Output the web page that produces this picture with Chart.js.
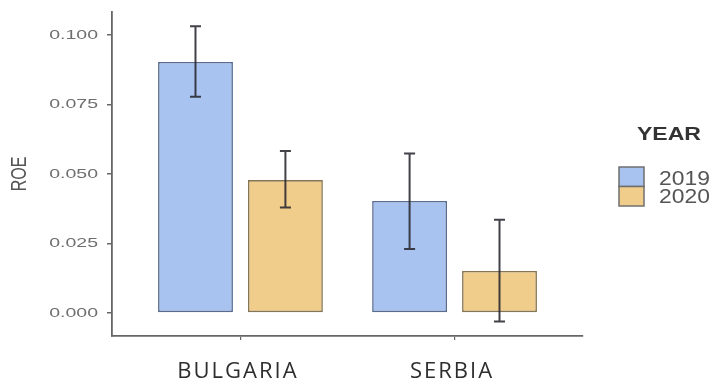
<!DOCTYPE html>
<html>
<head>
<meta charset="utf-8">
<script src="https://cdn.jsdelivr.net/npm/chart.js@4/dist/chart.umd.min.js"></script>
<style>
  html, body { margin: 0; padding: 0; background: #ffffff; }
  #wrap { width: 715px; height: 382px; }
</style>
</head>
<body>
<div id="wrap"><canvas id="roeChart" width="715" height="382"></canvas></div>
<script>
// ROE by country and year, mean with error range
const categories = ['BULGARIA', 'SERBIA'];
const years = ['2019', '2020'];
const roe2019 = [0.0903, 0.0403];
const roe2020 = [0.0478, 0.0151];
const lower2019 = [0.0778, 0.0230];
const upper2019 = [0.1032, 0.0574];
const lower2020 = [0.0379, -0.0031];
const upper2020 = [0.0583, 0.0335];
const yTicks = [0, 0.025, 0.05, 0.075, 0.1];

const fills = ['#a8c3ef', '#f1cd8b'];
const borders = ['#5a6c92', '#877653'];

const points = (vals) => vals.map((v, i) => ({ x: i + 1, y: v }));

const ranges = [
  { lo: lower2019, hi: upper2019 },
  { lo: lower2020, hi: upper2020 }
];

// vertical error bars with short caps, drawn on top of the bars
const errorBars = {
  id: 'errorBars',
  afterDatasetsDraw(chart) {
    const ctx = chart.ctx;
    const y = chart.scales.y;
    ctx.save();
    ctx.strokeStyle = 'rgba(40,40,48,0.88)';
    ctx.lineWidth = 2;
    chart.data.datasets.forEach((ds, di) => {
      const meta = chart.getDatasetMeta(di);
      meta.data.forEach((bar, i) => {
        const x = bar.x;
        const yl = y.getPixelForValue(ranges[di].lo[i]);
        const yh = y.getPixelForValue(ranges[di].hi[i]);
        const cap = 5.5;
        ctx.beginPath();
        ctx.moveTo(x, yl); ctx.lineTo(x, yh);
        ctx.moveTo(x - cap, yl); ctx.lineTo(x + cap, yl);
        ctx.moveTo(x - cap, yh); ctx.lineTo(x + cap, yh);
        ctx.stroke();
      });
    });
    ctx.restore();
  }
};

// wide axis lettering: stretch label text horizontally around its anchor
const axisText = {
  id: 'axisText',
  beforeDraw(chart) {
    const ys = chart.scales.y;
    const xs = chart.scales.x;
    if (!ys.$wide) {
      const lab = ys.drawLabels;
      ys.drawLabels = function (area) {
        const c = this.ctx;
        const ax = this.right - this.options.grid.tickLength - this.options.ticks.padding;
        c.save();
        c.translate(ax, 0); c.scale(1.5, 1); c.translate(-ax, 0);
        lab.call(this, area);
        c.restore();
      };
      const tit = ys.drawTitle;
      ys.drawTitle = function () {
        const c = this.ctx;
        const t = this.options.title;
        const cx = this.left + t.font.size * t.font.lineHeight / 2 + t.padding.top;
        c.save();
        c.translate(cx, 0); c.scale(1.4, 1); c.translate(-cx, 0);
        tit.call(this);
        c.restore();
      };
      ys.$wide = true;
    }
    if (!xs.$wide) {
      const lab = xs.drawLabels;
      xs.drawLabels = function (area) {
        const c = this.ctx;
        c.save();
        c.letterSpacing = '2px';
        c.translate(-2.5, 0);
        lab.call(this, area);
        c.restore();
      };
      xs.$wide = true;
    }
  }
};

// legend at the right: title and two touching swatches
const yearLegend = {
  id: 'yearLegend',
  afterDraw(chart) {
    const ctx = chart.ctx;
    ctx.save();
    ctx.textAlign = 'left';
    ctx.textBaseline = 'alphabetic';
    ctx.fillStyle = '#333333';
    ctx.font = 'bold 18px "Liberation Sans", Arial, sans-serif';
    ctx.save();
    ctx.translate(637, 0); ctx.scale(1.28, 1);
    ctx.fillText('YEAR', 0, 140);
    ctx.restore();

    const bx = 619, bw = 25, bh = 19.5, by0 = 167;
    chart.data.datasets.forEach((ds, i) => {
      const by = by0 + i * bh;
      ctx.fillStyle = ds.backgroundColor;
      ctx.fillRect(bx, by, bw, bh);
      ctx.strokeStyle = '#6f6f6f';
      ctx.lineWidth = 1.5;
      ctx.strokeRect(bx, by, bw, bh);
      ctx.fillStyle = '#555555';
      ctx.font = '21px "Liberation Sans", Arial, sans-serif';
      ctx.save();
      ctx.translate(659, 0); ctx.scale(1.09, 1);
      ctx.fillText(ds.label, 0, 185 + i * 18);
      ctx.restore();
    });
    ctx.restore();
  }
};

new Chart(document.getElementById('roeChart'), {
  type: 'bar',
  data: {
    datasets: [
      {
        label: years[0],
        data: points(roe2019),
        backgroundColor: fills[0],
        borderColor: borders[0],
        borderWidth: 1.6,
        borderSkipped: false
      },
      {
        label: years[1],
        data: points(roe2020),
        backgroundColor: fills[1],
        borderColor: borders[1],
        borderWidth: 1.6,
        borderSkipped: false
      }
    ]
  },
  options: {
    responsive: false,
    animation: false,
    devicePixelRatio: 1,
    categoryPercentage: 0.84,
    barPercentage: 0.833,
    layout: { padding: { top: 12, right: 132, left: 0, bottom: 0 } },
    plugins: {
      legend: { display: false },
      tooltip: { enabled: false }
    },
    scales: {
      x: {
        type: 'linear',
        min: 0.4,
        max: 2.6,
        offset: false,
        afterBuildTicks(s) { s.ticks = categories.map((c, i) => ({ value: i + 1 })); },
        afterFit(s) { s.height = 46; s.paddingLeft = 0; s.paddingRight = 0; },
        ticks: {
          callback: (v) => categories[v - 1],
          color: '#2e2e2e',
          font: { family: '"Open Sans", sans-serif', size: 22 },
          padding: 19,
          maxRotation: 0,
          autoSkip: false
        },
        grid: {
          offset: false,
          drawOnChartArea: false,
          drawTicks: true,
          tickLength: 4,
          color: '#666666',
          lineWidth: 1.2
        },
        border: { display: true, color: '#666666', width: 1.8 }
      },
      y: {
        min: -0.0083,
        max: 0.1083,
        afterBuildTicks(s) { s.ticks = yTicks.map((v) => ({ value: v })); },
        afterFit(s) { s.width = 112; s.paddingTop = 0; s.paddingBottom = 0; },
        ticks: {
          callback: (v) => v.toFixed(3),
          color: '#6e6e6e',
          font: { family: '"Liberation Sans", Arial, sans-serif', size: 13 },
          padding: 9
        },
        grid: {
          drawOnChartArea: false,
          drawTicks: true,
          tickLength: 5,
          color: '#666666',
          lineWidth: 1.5
        },
        border: { display: true, color: '#666666', width: 1.8 },
        title: {
          display: true,
          text: 'ROE',
          color: '#555555',
          font: { family: '"Liberation Sans", Arial, sans-serif', size: 16, lineHeight: 1.2 },
          padding: { top: 10, bottom: 0 }
        }
      }
    }
  },
  plugins: [errorBars, axisText, yearLegend]
});
</script>
</body>
</html>
